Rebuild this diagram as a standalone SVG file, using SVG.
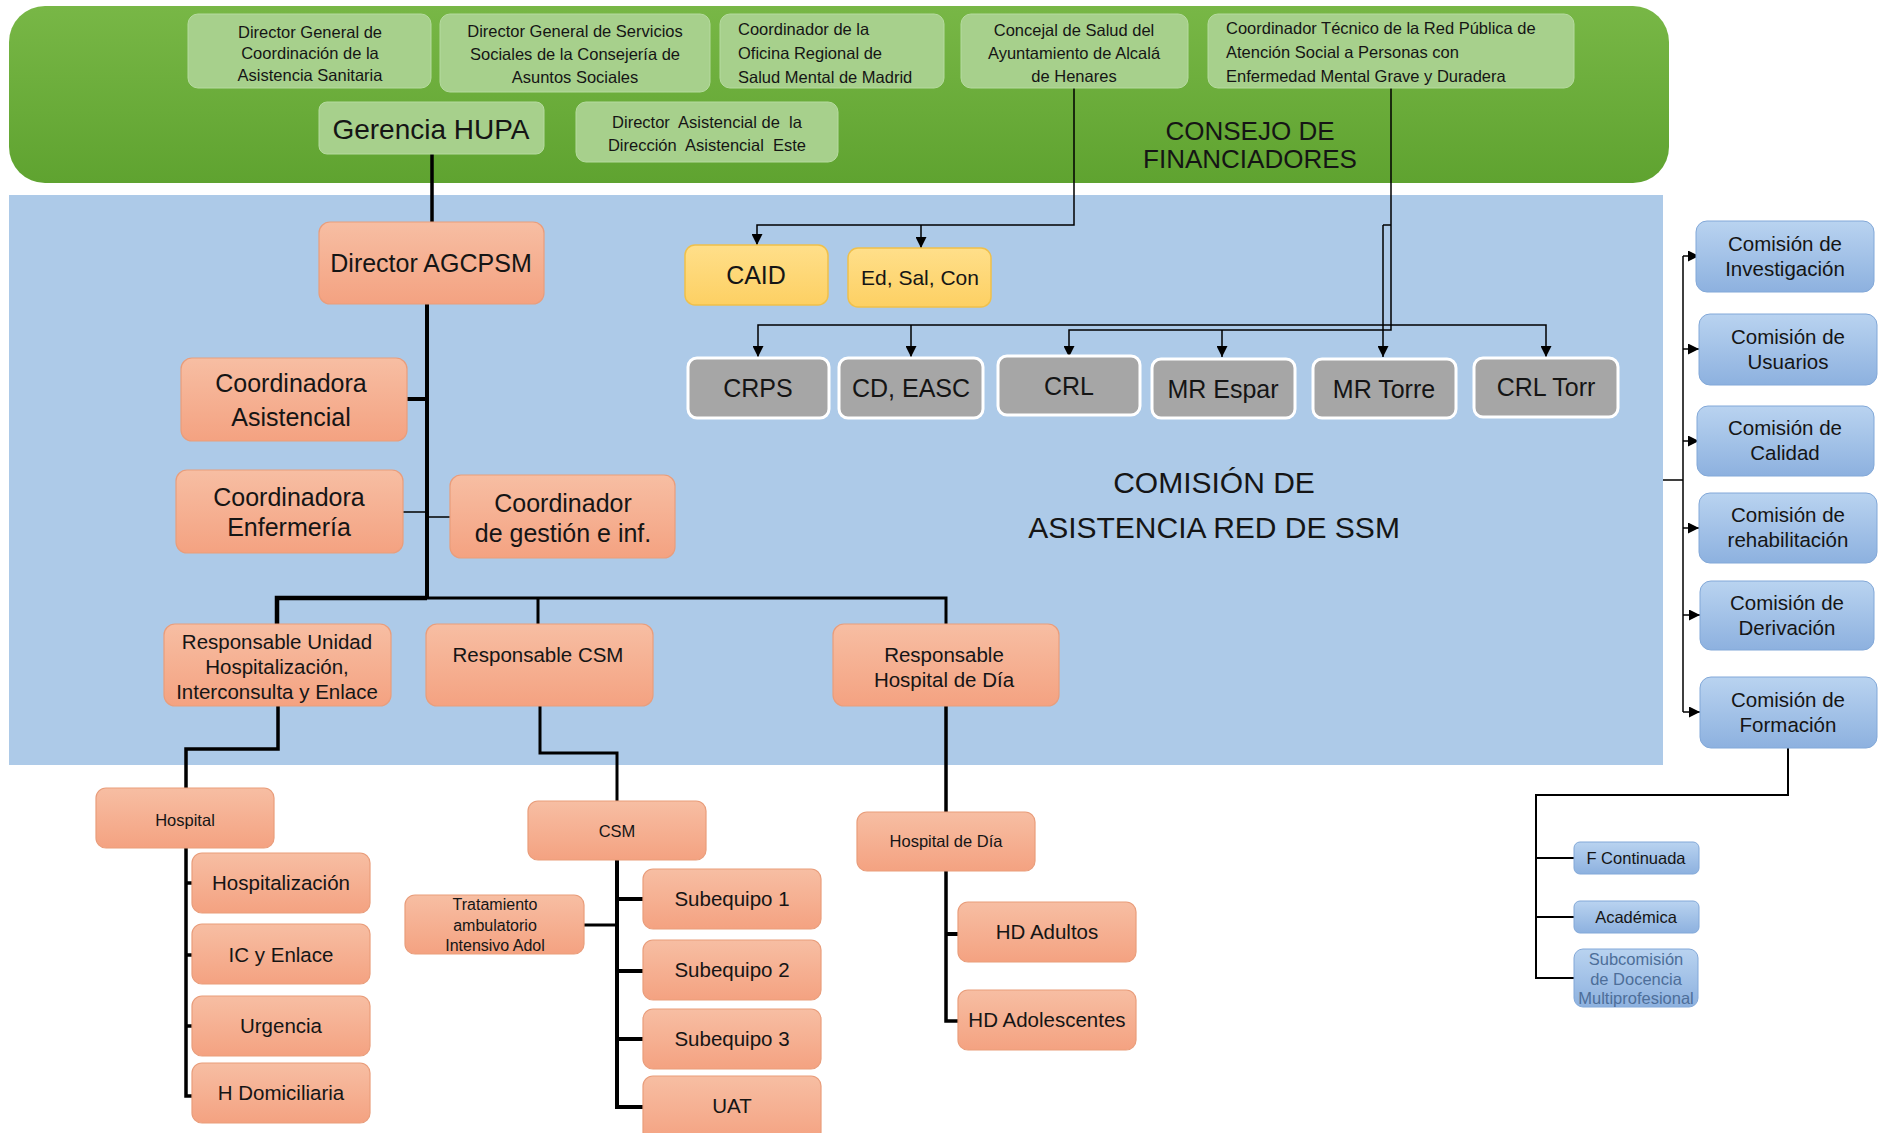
<svg xmlns="http://www.w3.org/2000/svg" width="1881" height="1133" viewBox="0 0 1881 1133">
<defs>
<linearGradient id="gGreen" x1="0" y1="0" x2="0" y2="1"><stop offset="0" stop-color="#78b746"/><stop offset="1" stop-color="#5fa330"/></linearGradient>
<linearGradient id="gSal" x1="0" y1="0" x2="0" y2="1"><stop offset="0" stop-color="#f7bea3"/><stop offset="1" stop-color="#f4a281"/></linearGradient>
<linearGradient id="gYel" x1="0" y1="0" x2="0" y2="1"><stop offset="0" stop-color="#ffdf8a"/><stop offset="1" stop-color="#fdd063"/></linearGradient>
<linearGradient id="gBlu" x1="0" y1="0" x2="0" y2="1"><stop offset="0" stop-color="#b9d3f0"/><stop offset="1" stop-color="#8db1df"/></linearGradient>
<marker id="arr" viewBox="0 0 10 10" refX="10" refY="5" markerWidth="12" markerHeight="11" markerUnits="userSpaceOnUse" orient="auto"><path d="M0,0 L10,5 L0,10 z" fill="#000"/></marker>
<style>
.t{font-family:"Liberation Sans",Arial,sans-serif;fill:#151515;text-anchor:middle}
.l{text-anchor:start}
.lg{fill:#a7d08c;stroke:#b6dba0;stroke-width:1}
.sal{fill:url(#gSal);stroke:#e99d7b;stroke-width:1.2}
.yel{fill:url(#gYel);stroke:#f0c04a;stroke-width:1.5}
.gry{fill:#a6a6a6;stroke:#ffffff;stroke-width:3}
.blu{fill:url(#gBlu);stroke:#82a8d8;stroke-width:1}
.c{fill:none;stroke:#000;stroke-linejoin:miter}
.th{stroke-width:1.5}
.ar{marker-end:url(#arr)}
</style>
</defs>
<rect x="0" y="0" width="1881" height="1133" fill="#ffffff"/>
<!-- panels -->
<rect id="consejo-panel" x="9" y="6" width="1660" height="177" rx="36" fill="url(#gGreen)"/>
<rect id="comision-panel" x="9" y="195" width="1654" height="570" fill="#adcae8"/>
<text class="t" x="1250" y="140" font-size="26">CONSEJO DE</text>
<text class="t" x="1250" y="168" font-size="26">FINANCIADORES</text>
<text class="t" x="1214" y="493" font-size="30">COMISIÓN DE</text>
<text class="t" x="1214" y="538" font-size="30">ASISTENCIA RED DE SSM</text>

<!-- connectors -->
<g id="connectors">
<path class="c" stroke-width="3.5" d="M432,154 V222"/>
<path class="c" stroke-width="4" d="M427,304 V598"/>
<path class="c" stroke-width="4" d="M407,399 H427"/>
<path class="c th" d="M403,512 H427"/>
<path class="c th" d="M427,517 H450"/>
<path class="c" stroke-width="4.5" d="M277,624 V598 H427"/>
<path class="c" stroke-width="3" d="M427,598 H946 V624"/>
<path class="c" stroke-width="3" d="M538,598 V624"/>
<path class="c" stroke-width="3.5" d="M278,706 V749 H186 V788"/>
<path class="c" stroke-width="3.5" d="M186,848 V1096 H192 M186,883 H192 M186,955 H192 M186,1026 H192"/>
<path class="c" stroke-width="3" d="M540,706 V753 H617 V801"/>
<path class="c" stroke-width="4" d="M617,860 V1107 H643 M617,899 H643 M617,971 H643 M617,1039 H643"/>
<path class="c" stroke-width="3" d="M584,925 H617"/>
<path class="c" stroke-width="3.5" d="M946,706 V812"/>
<path class="c" stroke-width="3.5" d="M946,871 V1021 H958"/>
<path class="c" stroke-width="4" d="M946,934 H958"/>
<!-- Concejal -> CAID / Ed -->
<path class="c th ar" d="M1074,88 V225 H757 V245"/>
<path class="c th ar" d="M921,225 V248"/>
<!-- Coordinador tecnico -> recursos -->
<path class="c th ar" d="M1391,88 V330 H1069 V357"/>
<path class="c th ar" d="M1391,325 H758 V357"/>
<path class="c th ar" d="M911,325 V357"/>
<path class="c th ar" d="M1391,325 H1546 V357"/>
<path class="c th ar" d="M1222,330 V357"/>
<path class="c th" d="M1391,225 H1383"/>
<path class="c th ar" d="M1383,225 V357"/>
<!-- comisiones -->
<path class="c th" d="M1663,480 H1683 M1683,256 V712"/>
<path class="c th ar" d="M1683,256 H1699"/>
<path class="c th ar" d="M1683,349 H1699"/>
<path class="c th ar" d="M1683,441 H1699"/>
<path class="c th ar" d="M1683,528 H1699"/>
<path class="c th ar" d="M1683,615 H1700"/>
<path class="c th ar" d="M1683,712 H1700"/>
<path class="c" stroke="#333" stroke-width="2" d="M1788,748 V795 H1536 V978 H1574 M1536,858 H1574 M1536,917 H1574"/>
</g>

<!-- consejo nodes -->
<g id="n-dg-coord"><rect class="lg" x="188" y="14" width="243" height="74" rx="10"/>
<text class="t" font-size="16.5"><tspan x="310" y="38">Director General de</tspan><tspan x="310" y="59">Coordinación de la</tspan><tspan x="310" y="81">Asistencia Sanitaria</tspan></text></g>
<g id="n-dg-serv"><rect class="lg" x="440" y="14" width="270" height="78" rx="10"/>
<text class="t" font-size="16.5"><tspan x="575" y="37">Director General de Servicios</tspan><tspan x="575" y="60">Sociales de la Consejería de</tspan><tspan x="575" y="83">Asuntos Sociales</tspan></text></g>
<g id="n-oficina"><rect class="lg" x="720" y="14" width="224" height="74" rx="10"/>
<text class="t l" font-size="16.5"><tspan x="738" y="35">Coordinador de la</tspan><tspan x="738" y="59">Oficina Regional de</tspan><tspan x="738" y="83">Salud Mental de Madrid</tspan></text></g>
<g id="n-concejal"><rect class="lg" x="961" y="14" width="227" height="74" rx="10"/>
<text class="t" font-size="16.5"><tspan x="1074" y="36">Concejal de Salud del</tspan><tspan x="1074" y="59">Ayuntamiento de Alcalá</tspan><tspan x="1074" y="82">de Henares</tspan></text></g>
<g id="n-tecnico"><rect class="lg" x="1208" y="14" width="366" height="74" rx="10"/>
<text class="t l" font-size="16.5"><tspan x="1226" y="34">Coordinador Técnico de la Red Pública de</tspan><tspan x="1226" y="58">Atención Social a Personas con</tspan><tspan x="1226" y="82">Enfermedad Mental Grave y Duradera</tspan></text></g>
<g id="n-gerencia"><rect class="lg" x="319" y="102" width="225" height="52" rx="8"/>
<text class="t" x="431" y="139" font-size="28">Gerencia HUPA</text></g>
<g id="n-dir-asist"><rect class="lg" x="576" y="102" width="262" height="60" rx="10"/>
<text class="t" font-size="16.5" xml:space="preserve"><tspan x="707" y="128">Director  Asistencial de  la</tspan><tspan x="707" y="151">Dirección  Asistencial  Este</tspan></text></g>

<!-- salmon tree -->
<g id="n-director"><rect class="sal" x="319" y="222" width="225" height="82" rx="11"/>
<text class="t" x="431" y="272" font-size="25">Director AGCPSM</text></g>
<g id="n-coord-asist"><rect class="sal" x="181" y="358" width="226" height="83" rx="11"/>
<text class="t" font-size="25"><tspan x="291" y="392">Coordinadora</tspan><tspan x="291" y="426">Asistencial</tspan></text></g>
<g id="n-coord-enf"><rect class="sal" x="176" y="470" width="227" height="83" rx="11"/>
<text class="t" font-size="25"><tspan x="289" y="506">Coordinadora</tspan><tspan x="289" y="536">Enfermería</tspan></text></g>
<g id="n-coord-gest"><rect class="sal" x="450" y="475" width="225" height="83" rx="11"/>
<text class="t" font-size="25"><tspan x="563" y="512">Coordinador</tspan><tspan x="563" y="542">de gestión e inf.</tspan></text></g>
<g id="n-resp-unidad"><rect class="sal" x="164" y="624" width="227" height="82" rx="11"/>
<text class="t" font-size="20.5"><tspan x="277" y="649">Responsable Unidad</tspan><tspan x="277" y="674">Hospitalización,</tspan><tspan x="277" y="699">Interconsulta y Enlace</tspan></text></g>
<g id="n-resp-csm"><rect class="sal" x="426" y="624" width="227" height="82" rx="11"/>
<text class="t" x="538" y="662" font-size="20.5">Responsable CSM</text></g>
<g id="n-resp-hd"><rect class="sal" x="833" y="624" width="226" height="82" rx="11"/>
<text class="t" font-size="20.5"><tspan x="944" y="662">Responsable</tspan><tspan x="944" y="687">Hospital de Día</tspan></text></g>
<g id="n-hospital"><rect class="sal" x="96" y="788" width="178" height="60" rx="10"/>
<text class="t" x="185" y="826" font-size="16.5">Hospital</text></g>
<g id="n-hospitalizacion"><rect class="sal" x="192" y="853" width="178" height="60" rx="10"/>
<text class="t" x="281" y="890" font-size="20.5">Hospitalización</text></g>
<g id="n-ic"><rect class="sal" x="192" y="924" width="178" height="60" rx="10"/>
<text class="t" x="281" y="962" font-size="20.5">IC y Enlace</text></g>
<g id="n-urgencia"><rect class="sal" x="192" y="996" width="178" height="60" rx="10"/>
<text class="t" x="281" y="1033" font-size="20.5">Urgencia</text></g>
<g id="n-hdom"><rect class="sal" x="192" y="1063" width="178" height="60" rx="10"/>
<text class="t" x="281" y="1100" font-size="20.5">H Domiciliaria</text></g>
<g id="n-csm"><rect class="sal" x="528" y="801" width="178" height="59" rx="10"/>
<text class="t" x="617" y="837" font-size="16.5">CSM</text></g>
<g id="n-tratamiento"><rect class="sal" x="405" y="895" width="179" height="59" rx="10"/>
<text class="t" font-size="16"><tspan x="495" y="910">Tratamiento</tspan><tspan x="495" y="931">ambulatorio</tspan><tspan x="495" y="951">Intensivo Adol</tspan></text></g>
<g id="n-sub1"><rect class="sal" x="643" y="869" width="178" height="60" rx="10"/>
<text class="t" x="732" y="906" font-size="20.5">Subequipo 1</text></g>
<g id="n-sub2"><rect class="sal" x="643" y="940" width="178" height="60" rx="10"/>
<text class="t" x="732" y="977" font-size="20.5">Subequipo 2</text></g>
<g id="n-sub3"><rect class="sal" x="643" y="1009" width="178" height="60" rx="10"/>
<text class="t" x="732" y="1046" font-size="20.5">Subequipo 3</text></g>
<g id="n-uat"><rect class="sal" x="643" y="1076" width="178" height="66" rx="10"/>
<text class="t" x="732" y="1113" font-size="20.5">UAT</text></g>
<g id="n-hdia"><rect class="sal" x="857" y="812" width="178" height="59" rx="10"/>
<text class="t" x="946" y="847" font-size="16.5">Hospital de Día</text></g>
<g id="n-hd-adultos"><rect class="sal" x="958" y="902" width="178" height="60" rx="10"/>
<text class="t" x="1047" y="939" font-size="20.5">HD Adultos</text></g>
<g id="n-hd-adol"><rect class="sal" x="958" y="990" width="178" height="60" rx="10"/>
<text class="t" x="1047" y="1027" font-size="20.5">HD Adolescentes</text></g>

<!-- yellow -->
<g id="n-caid"><rect class="yel" x="685" y="245" width="143" height="60" rx="10"/>
<text class="t" x="756" y="284" font-size="25">CAID</text></g>
<g id="n-edsal"><rect class="yel" x="848" y="248" width="143" height="59" rx="10"/>
<text class="t" x="920" y="285" font-size="21">Ed, Sal, Con</text></g>

<!-- gray -->
<g id="n-crps"><rect class="gry" x="688" y="358" width="141" height="60" rx="9"/>
<text class="t" x="758" y="397" font-size="25">CRPS</text></g>
<g id="n-cdeasc"><rect class="gry" x="839" y="358" width="144" height="60" rx="9"/>
<text class="t" x="911" y="397" font-size="25">CD, EASC</text></g>
<g id="n-crl"><rect class="gry" x="998" y="356" width="142" height="59" rx="9"/>
<text class="t" x="1069" y="395" font-size="25">CRL</text></g>
<g id="n-mrespar"><rect class="gry" x="1152" y="359" width="143" height="59" rx="9"/>
<text class="t" x="1223" y="398" font-size="25">MR Espar</text></g>
<g id="n-mrtorre"><rect class="gry" x="1313" y="359" width="143" height="59" rx="9"/>
<text class="t" x="1384" y="398" font-size="25">MR Torre</text></g>
<g id="n-crltorr"><rect class="gry" x="1474" y="358" width="144" height="59" rx="9"/>
<text class="t" x="1546" y="396" font-size="25">CRL Torr</text></g>

<!-- comisiones -->
<g id="n-c-inv"><rect class="blu" x="1696" y="221" width="178" height="71" rx="11"/>
<text class="t" font-size="20.5"><tspan x="1785" y="251">Comisión de</tspan><tspan x="1785" y="276">Investigación</tspan></text></g>
<g id="n-c-usu"><rect class="blu" x="1699" y="314" width="178" height="71" rx="11"/>
<text class="t" font-size="20.5"><tspan x="1788" y="344">Comisión de</tspan><tspan x="1788" y="369">Usuarios</tspan></text></g>
<g id="n-c-cal"><rect class="blu" x="1697" y="406" width="177" height="70" rx="11"/>
<text class="t" font-size="20.5"><tspan x="1785" y="435">Comisión de</tspan><tspan x="1785" y="460">Calidad</tspan></text></g>
<g id="n-c-reh"><rect class="blu" x="1699" y="493" width="178" height="70" rx="11"/>
<text class="t" font-size="20.5"><tspan x="1788" y="522">Comisión de</tspan><tspan x="1788" y="547">rehabilitación</tspan></text></g>
<g id="n-c-der"><rect class="blu" x="1700" y="581" width="174" height="69" rx="11"/>
<text class="t" font-size="20.5"><tspan x="1787" y="610">Comisión de</tspan><tspan x="1787" y="635">Derivación</tspan></text></g>
<g id="n-c-for"><rect class="blu" x="1700" y="677" width="177" height="71" rx="11"/>
<text class="t" font-size="20.5"><tspan x="1788" y="707">Comisión de</tspan><tspan x="1788" y="732">Formación</tspan></text></g>
<g id="n-fcont"><rect class="blu" x="1574" y="842" width="125" height="32" rx="6"/>
<text class="t" x="1636" y="864" font-size="16.5">F Continuada</text></g>
<g id="n-acad"><rect class="blu" x="1574" y="901" width="125" height="32" rx="6"/>
<text class="t" x="1636" y="923" font-size="16.5">Académica</text></g>
<g id="n-subcom"><rect class="blu" x="1574" y="949" width="124" height="58" rx="9"/>
<text class="t" font-size="16.5" style="fill:#4d6e99"><tspan x="1636" y="965">Subcomisión</tspan><tspan x="1636" y="985">de Docencia</tspan><tspan x="1636" y="1004">Multiprofesional</tspan></text></g>
</svg>
